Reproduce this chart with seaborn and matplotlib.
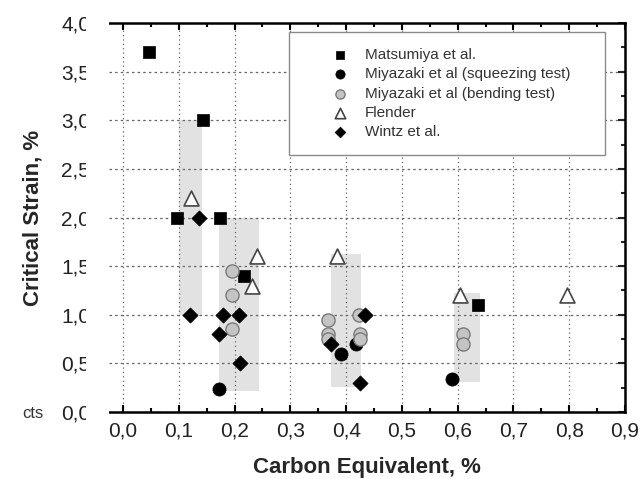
import numpy as np
import matplotlib
matplotlib.use("Agg")
import matplotlib.pyplot as plt
import seaborn as sns
from matplotlib.ticker import FixedLocator, FixedFormatter
from matplotlib.patches import Rectangle

# ---- data ----
mats_x = [0.046, 0.143, 0.096, 0.174, 0.217, 0.636]
mats_y = [3.7, 3.0, 2.0, 2.0, 1.4, 1.1]

sq_x = [0.172, 0.39, 0.418, 0.59]
sq_y = [0.24, 0.6, 0.7, 0.34]

bend_x = [0.195, 0.195, 0.195, 0.368, 0.368, 0.368, 0.423, 0.425, 0.425, 0.609, 0.609]
bend_y = [1.45, 1.2, 0.85, 0.95, 0.8, 0.75, 1.0, 0.8, 0.75, 0.8, 0.7]

fl_x = [0.121, 0.241, 0.232, 0.384, 0.605, 0.796]
fl_y = [2.2, 1.6, 1.3, 1.6, 1.2, 1.2]

wz_x = [0.136, 0.12, 0.18, 0.208, 0.172, 0.21, 0.372, 0.433, 0.424]
wz_y = [2.0, 1.0, 1.0, 1.0, 0.8, 0.5, 0.7, 1.0, 0.3]

band_x0 = [0.100, 0.172, 0.372, 0.593]
band_x1 = [0.141, 0.244, 0.426, 0.640]
band_y0 = [1.0, 0.22, 0.26, 0.305]
band_y1 = [3.0, 2.0, 1.625, 1.22]

x_ticks = [0.0, 0.1, 0.2, 0.3, 0.4, 0.5, 0.6, 0.7, 0.8, 0.9]
x_tick_labels = ["0,0", "0,1", "0,2", "0,3", "0,4", "0,5", "0,6", "0,7", "0,8", "0,9"]
x_minor = [0.05, 0.15, 0.25, 0.35, 0.45, 0.55, 0.65, 0.75, 0.85]
y_ticks = [0.0, 0.5, 1.0, 1.5, 2.0, 2.5, 3.0, 3.5, 4.0]
y_tick_labels = ["0,0", "0,5", "1,0", "1,5", "2,0", "2,5", "3,0", "3,5", "4,0"]
y_minor = [0.25, 0.75, 1.25, 1.75, 2.25, 2.75, 3.25, 3.75]

labels = ["Matsumiya et al.", "Miyazaki et al (squeezing test)",
          "Miyazaki et al (bending test)", "Flender", "Wintz et al."]

# ---- style ----
sns.set_style("white")
plt.rcParams['font.family'] = ['Liberation Sans', 'DejaVu Sans']

fig = plt.figure(figsize=(6.4, 4.79), dpi=100)
ax = fig.add_axes([109/640, 1 - 412/479, 516/640, 389/479])

# bands
bw = [b - a for a, b in zip(band_x0, band_x1)]
bh = [b - a for a, b in zip(band_y0, band_y1)]
ax.bar(band_x0, bh, width=bw, bottom=band_y0, align='edge', color='#e2e2e2',
       edgecolor='none', zorder=0.3)

ax.set_axisbelow(True)
ax.xaxis.grid(True, which='major', linestyle=(0, (1, 2.5)), color='#666666', linewidth=0.9)
ax.yaxis.grid(True, which='major', linestyle=(0, (2, 2.5)), color='#666666', linewidth=0.9)

sns.scatterplot(x=mats_x, y=mats_y, marker='s', s=75, color='black', edgecolor='black',
                linewidth=0.5, label=labels[0], ax=ax, zorder=3)
sns.scatterplot(x=sq_x, y=sq_y, marker='o', s=90, color='black', edgecolor='black',
                linewidth=0.5, label=labels[1], ax=ax, zorder=3)
sns.scatterplot(x=bend_x, y=bend_y, marker='o', s=90, color='#c4c4c4', edgecolor='#7a7a7a',
                linewidth=1.0, label=labels[2], ax=ax, zorder=3)
sns.scatterplot(x=fl_x, y=fl_y, marker='^', s=115, color='white', edgecolor='#444444',
                linewidth=1.2, label=labels[3], ax=ax, zorder=3)
sns.scatterplot(x=wz_x, y=wz_y, marker='D', s=60, color='black', edgecolor='black',
                linewidth=0.5, label=labels[4], ax=ax, zorder=3)

ax.set_xlim(-0.0252, 0.9)
ax.set_ylim(0, 4.0)

ax.xaxis.set_major_locator(FixedLocator(x_ticks))
ax.xaxis.set_major_formatter(FixedFormatter(x_tick_labels))
ax.xaxis.set_minor_locator(FixedLocator(x_minor))
ax.yaxis.set_major_locator(FixedLocator(y_ticks))
ax.yaxis.set_major_formatter(FixedFormatter(y_tick_labels))
ax.yaxis.set_minor_locator(FixedLocator(y_minor))

ax.tick_params(axis='x', which='both', direction='in', top=True, bottom=True,
               labelsize=15, pad=7, colors='black', labelcolor='#222222')
ax.tick_params(axis='x', which='major', length=5, width=1.5)
ax.tick_params(axis='x', which='minor', length=3, width=1.5)
ax.tick_params(axis='y', which='both', direction='in', left=False, right=True,
               labelleft=True, labelsize=15, pad=13.5, labelcolor='#222222')
ax.tick_params(axis='y', which='major', length=5, width=1.5)
ax.tick_params(axis='y', which='minor', length=3, width=1.5)

for side in ['top', 'bottom', 'right']:
    ax.spines[side].set_linewidth(1.8)
    ax.spines[side].set_color('black')
ax.spines['left'].set_visible(False)

ax.set_xlabel("Carbon Equivalent, %", fontsize=16, fontweight='bold', labelpad=12)
ax.set_ylabel("Critical Strain, %", fontsize=16, fontweight='bold', labelpad=13)

leg = ax.legend(loc='upper left', bbox_to_anchor=(180/516, 0, 316/516, 1 - 9/389),
                mode='expand', borderaxespad=0, fontsize=11, frameon=True,
                fancybox=False, edgecolor='#8a8a8a', framealpha=1,
                borderpad=1.06, handlelength=4.56, handletextpad=-0.64,
                labelspacing=0.34, markerscale=0.7, labelcolor='#333333')
leg.get_frame().set_linewidth(1.0)
leg.set_zorder(5)

# white strip that clips the y tick labels, as in the source image
fig.patches.append(Rectangle((85.5/640, 0.0), (108.5 - 85.5)/640, 1.0,
                             transform=fig.transFigure, facecolor='white',
                             edgecolor='none', zorder=10))

fig.text(22/640, 1 - 413/479, "cts", fontsize=12, color='#333333', va='center', ha='left')

fig.savefig("out.png", dpi=100)
